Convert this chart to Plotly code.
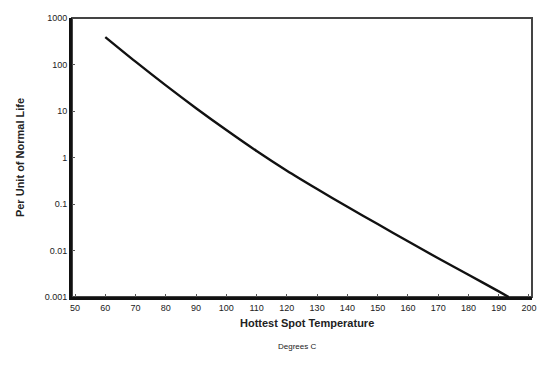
import plotly.graph_objects as go

# Hottest-spot temperature (deg C) and relative insulation life (per unit of normal life)
temperature_c = [60, 70, 80, 90, 100, 110, 120, 130, 140, 150, 160, 170, 180, 190, 193.3]
per_unit_life = [389, 115, 35.5, 11.5, 3.9, 1.38, 0.52, 0.21, 0.087, 0.037, 0.0158, 0.0068, 0.0030, 0.00132, 0.001]

x_ticks = [50, 60, 70, 80, 90, 100, 110, 120, 130, 140, 150, 160, 170, 180, 190, 200]
y_ticks = [1000, 100, 10, 1, 0.1, 0.01, 0.001]
y_tick_text = ["1000", "100", "10", "1", "0.1", "0.01", "0.001"]

fig = go.Figure()
fig.add_trace(go.Scatter(
    x=temperature_c, y=per_unit_life, mode="lines",
    line=dict(color="#111111", width=2.4, shape="spline", smoothing=0.8),
    showlegend=False, hoverinfo="skip",
))

tick_font = dict(family="Liberation Sans, Arial, sans-serif", size=9, color="#222222")

fig.update_layout(
    width=539, height=367,
    margin=dict(l=72, r=3, t=18, b=70),
    paper_bgcolor="white", plot_bgcolor="white",
    xaxis=dict(
        range=[49, 201], tickvals=x_ticks, ticktext=[str(v) for v in x_ticks],
        showgrid=False, zeroline=False,
        showline=True, linecolor="#111111", linewidth=3,
        ticks="inside", ticklen=3, tickcolor="#555555",
        tickfont=tick_font, ticklabeloverflow="allow",
    ),
    yaxis=dict(
        type="log", range=[-3, 3], tickvals=y_ticks, ticktext=y_tick_text,
        showgrid=False, zeroline=False,
        showline=True, linecolor="#111111", linewidth=3,
        ticks="inside", ticklen=3, tickcolor="#555555",
        tickfont=tick_font, ticklabeloverflow="allow",
        title=dict(text="<b>Per Unit of Normal Life</b>",
                   font=dict(family="Liberation Sans, Arial, sans-serif", size=11, color="#222222"),
                   standoff=18),
    ),
    shapes=[dict(type="rect", xref="paper", yref="paper", x0=0, y0=0, x1=1, y1=1,
                 line=dict(color="#444444", width=2), layer="below")],
    annotations=[
        dict(text="<b>Hottest Spot Temperature</b>", xref="paper", yref="paper",
             x=0.51, y=-0.065, xanchor="center", yanchor="top", showarrow=False,
             font=dict(family="Liberation Sans, Arial, sans-serif", size=11, color="#222222")),
        dict(text="Degrees C", xref="paper", yref="paper",
             x=0.49, y=-0.155, xanchor="center", yanchor="top", showarrow=False,
             font=dict(family="Liberation Sans, Arial, sans-serif", size=8, color="#222222")),
    ],
)

fig.write_html("out.html")
